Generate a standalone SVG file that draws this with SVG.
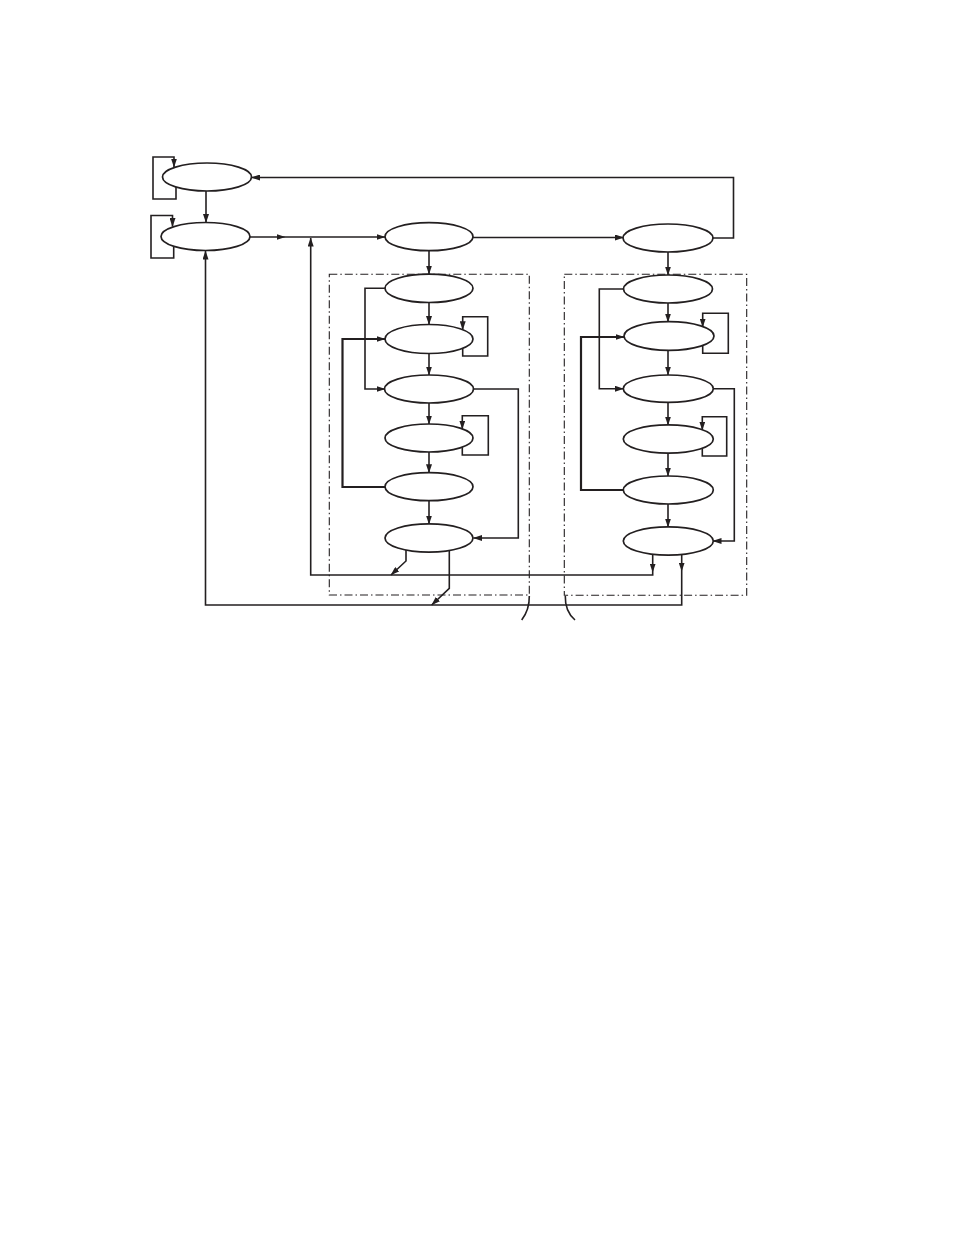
<svg xmlns="http://www.w3.org/2000/svg" width="954" height="1235" viewBox="0 0 954 1235">
<style>
.n{fill:#fff;stroke:#231f20;stroke-width:1.7}
.c{fill:none;stroke:#231f20;stroke-width:1.6}
.t{stroke-width:2.2}
.b{fill:none;stroke:#231f20;stroke-width:1.1;stroke-dasharray:8 3 1.5 3}
</style>
<defs>
<marker id="ar" markerUnits="userSpaceOnUse" markerWidth="9" markerHeight="6" refX="8.5" refY="3" orient="auto">
<path d="M0,0 L9,3 L0,6 z" fill="#231f20"/>
</marker>
</defs>
<rect width="954" height="1235" fill="#fff"/>
<g id="groups">
<rect class="b" x="329.3" y="274.3" width="200" height="320.7"/>
<rect class="b" x="564.3" y="274.3" width="182.4" height="321"/>
<path class="c" d="M529.3,596 C529.5,606 527,613 521.7,620"/>
<path class="c" d="M565.3,596 C565,606 568,614 575,620"/>
</g>
<g id="connectors" marker-end="url(#ar)">
<path class="c" d="M206,191 L206,222.5"/>
<path class="c" d="M176,187 L176,199 L153,199 L153,157 L174,157 L174,167"/>
<path class="c" d="M173.7,246 L173.7,258 L151,258 L151,215.5 L172.5,215.5 L172.5,226.5"/>
<path class="c" d="M250,237 L285,237"/>
<path class="c" d="M285,237 L385,237"/>
<path class="c" d="M473,237.5 L623.5,237.5"/>
<path class="c" d="M713,238 L733.5,238 L733.5,177.5 L251.5,177.5"/>
<path class="c" d="M429,251 L429,274"/>
<path class="c" d="M668,252 L668,275"/>
<path class="c" d="M429,302.5 L429,324.5"/>
<path class="c" d="M429,353.5 L429,375"/>
<path class="c" d="M429,403 L429,424"/>
<path class="c" d="M429,452 L429,472.7"/>
<path class="c" d="M429,501 L429,524"/>
<path class="c" d="M462.7,348.3 L462.7,356 L487.7,356 L487.7,316.7 L462.7,316.7 L462.7,329.7"/>
<path class="c" d="M462.3,447 L462.3,455 L488.3,455 L488.3,415.7 L462.3,415.7 L462.3,429"/>
<path class="c" d="M385,288.3 L365,288.3 L365,389 L385,389"/>
<path class="c t" d="M385,487 L342.5,487 L342.5,339 L385,339"/>
<path class="c" d="M473.5,389 L518.3,389 L518.3,538 L473.5,538"/>
<path class="c" d="M406,550 L406,561 L391,575"/>
<path class="c" d="M449.3,550.4 L449.3,588.3 L431.7,605"/>
<path class="c" d="M652.7,554.5 L652.7,572"/>
<path class="c" d="M652.7,572 L652.7,575 L310.7,575 L310.7,238"/>
<path class="c" d="M681.7,554.5 L681.7,571"/>
<path class="c" d="M681.7,571 L681.7,605 L205.5,605 L205.5,251"/>
<path class="c" d="M668,303 L668,322"/>
<path class="c" d="M668,350 L668,375"/>
<path class="c" d="M668,402.7 L668,425"/>
<path class="c" d="M668,453 L668,476"/>
<path class="c" d="M668,504 L668,527"/>
<path class="c" d="M702.7,345 L702.7,353.3 L728.3,353.3 L728.3,313.3 L702.7,313.3 L702.7,327"/>
<path class="c" d="M702.3,448 L702.3,456 L726.7,456 L726.7,416.7 L702.3,416.7 L702.3,430"/>
<path class="c" d="M623.5,289 L599.3,289 L599.3,388.7 L623.3,388.7"/>
<path class="c t" d="M623.3,490 L581,490 L581,337 L624,337"/>
<path class="c" d="M713.3,388.7 L734.3,388.7 L734.3,541 L713,541"/>
</g>
<g id="nA"><ellipse class="n" cx="207" cy="177" rx="44.5" ry="14"/></g>
<g id="nB"><ellipse class="n" cx="205.5" cy="236.5" rx="44.5" ry="14"/></g>
<g id="nC"><ellipse class="n" cx="429" cy="236.7" rx="44" ry="14"/></g>
<g id="nD"><ellipse class="n" cx="668" cy="238" rx="45" ry="14"/></g>
<g id="nC1"><ellipse class="n" cx="429" cy="288.3" rx="44" ry="14.2"/></g>
<g id="nC2"><ellipse class="n" cx="429" cy="339" rx="44" ry="14.5"/></g>
<g id="nC3"><ellipse class="n" cx="429" cy="389" rx="44.5" ry="14"/></g>
<g id="nC4"><ellipse class="n" cx="429" cy="438" rx="44" ry="14"/></g>
<g id="nC5"><ellipse class="n" cx="429" cy="486.7" rx="44" ry="14"/></g>
<g id="nC6"><ellipse class="n" cx="429" cy="538" rx="44" ry="14.2"/></g>
<g id="nD1"><ellipse class="n" cx="668" cy="289" rx="44.5" ry="14"/></g>
<g id="nD2"><ellipse class="n" cx="669" cy="336" rx="45" ry="14.3"/></g>
<g id="nD3"><ellipse class="n" cx="668.3" cy="388.7" rx="45" ry="13.7"/></g>
<g id="nD4"><ellipse class="n" cx="668.3" cy="439" rx="45" ry="14.2"/></g>
<g id="nD5"><ellipse class="n" cx="668.3" cy="490" rx="45" ry="14"/></g>
<g id="nD6"><ellipse class="n" cx="668.3" cy="541" rx="45" ry="14.2"/></g>
</svg>
